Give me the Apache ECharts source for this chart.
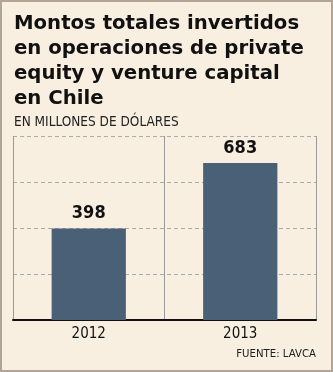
<!DOCTYPE html>
<html><head><meta charset="utf-8">
<script src="https://cdn.jsdelivr.net/npm/echarts@6/dist/echarts.min.js"></script>
<style>html,body{margin:0;padding:0;background:#f8efe1}#c{width:333px;height:372px}</style>
</head><body><div id="c"></div>
<script>
const titleText = "Montos totales invertidos\nen operaciones de private\nequity y venture capital\nen Chile";
const subtitleText = "EN MILLONES DE DÓLARES";
const sourceText = "FUENTE: LAVCA";
const categories = ["2012", "2013"];
const values = [398, 683];

const FONT = "'DejaVu Sans Condensed', 'DejaVu Sans', sans-serif";
const chart = echarts.init(document.getElementById('c'), null, {renderer: 'canvas'});
chart.setOption({
  backgroundColor: '#f8efe1',
  animation: false,
  title: [
    {text: titleText, left: 14, top: 11, padding: 0,
     textStyle: {fontFamily: "'DejaVu Sans', sans-serif", fontWeight: 'bold', fontSize: 19.7, lineHeight: 25, color: '#111'}},
    {text: subtitleText, left: 14, top: 115, padding: 0,
     textStyle: {fontFamily: FONT, fontWeight: 'normal', fontSize: 13.5, color: '#222'}},
    {text: sourceText, right: 17, top: 349, padding: 0,
     textStyle: {fontFamily: FONT, fontWeight: 'normal', fontSize: 11.3, color: '#222'}}
  ],
  graphic: [{type: 'rect', shape: {x: 1, y: 1, width: 331, height: 370},
    style: {fill: 'none', stroke: '#b3a499', lineWidth: 2}, silent: true}],
  grid: {left: 13, right: 17, top: 136, bottom: 52, containLabel: false},
  xAxis: {
    type: 'category', data: categories, boundaryGap: true,
    axisLine: {lineStyle: {color: '#111', width: 2}},
    axisTick: {show: false},
    axisLabel: {fontFamily: FONT, fontSize: 15, color: '#111', margin: 7},
    splitLine: {show: true, lineStyle: {color: '#999', width: 1, type: 'solid'}}
  },
  yAxis: {
    type: 'value', min: 0, max: 800, interval: 200,
    axisLine: {show: false}, axisTick: {show: false}, axisLabel: {show: false},
    splitLine: {lineStyle: {color: '#aaa', type: [4, 3], width: 1}}
  },
  series: [{
    type: 'bar', data: values, barWidth: '49%',
    itemStyle: {color: '#4a6076'},
    label: {show: true, position: 'top', distance: 6,
      fontFamily: FONT, fontWeight: 'bold', fontSize: 18, color: '#111'}
  }]
});
</script></body></html>
